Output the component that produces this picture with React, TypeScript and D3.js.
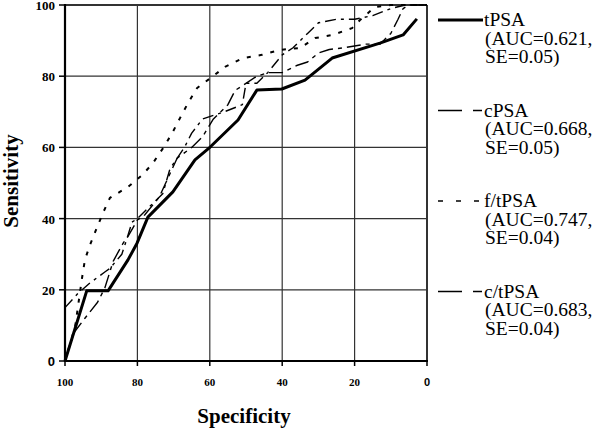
import React from "react";
import * as d3 from "d3";

const xTicks = [100, 80, 60, 40, 20, 0];
const yTicks = [0, 20, 40, 60, 80, 100];

const tpsaSpec = [100, 94, 88.1, 82.6, 80.1, 77.1, 70.2, 64.1, 59.9, 52.2, 47.0, 40.1, 33.7, 26.2, 13.0, 6.6, 2.8];
const tpsaSens = [0, 19.7, 19.7, 28.4, 33.1, 40.4, 47.5, 56.5, 60.1, 67.7, 76.1, 76.4, 78.9, 85.1, 89.3, 91.6, 96.1];

const cpsaSpec = [100, 97.5, 94.5, 91, 89, 86.7, 84, 82.6, 80, 78, 74, 69, 65, 62, 59, 55, 53, 47, 44, 40, 36, 33, 30, 27, 23, 17, 13, 10, 8, 6.6, 5, 0];
const cpsaSens = [0, 8, 12, 16.5, 20.5, 28, 33, 35, 39.6, 41, 46, 57, 60, 63, 68, 72, 76, 80, 81, 81, 83, 84, 86.5, 87.5, 88, 89, 89, 92, 96, 99, 100, 100];

const ftpsaSpec = [100, 97.2, 95.3, 94.5, 93.1, 91.2, 89.5, 87.6, 82.6, 78.7, 75.7, 72.9, 70.4, 68.2, 66, 63.5, 59.4, 55.8, 50.8, 45.6, 40.6, 35.1, 30.9, 26, 20.7, 18.5, 14.4, 10, 0];
const ftpsaSens = [0, 9.6, 23.3, 28.4, 32.6, 37.4, 41.6, 45.8, 48.9, 52.2, 55.6, 59.8, 64, 68.3, 72.5, 76.7, 79.8, 82.6, 85.1, 86, 87.4, 87.9, 90.7, 91.6, 93.5, 95.8, 99.4, 100, 100];

const ctpsaSpec = [100, 96.4, 93, 89, 87.6, 84.3, 83, 81.5, 80, 77, 73, 71, 67, 65, 62, 56, 51, 50, 47, 44, 40, 37, 33, 30, 25, 20, 15, 10, 6, 0];
const ctpsaSens = [15, 19, 22, 25, 26, 30, 34, 39, 40, 43, 47, 54, 60, 64, 68, 70, 72, 78, 78, 81, 86, 88, 92, 95, 96, 96, 97, 99, 100, 100];

const seriesNames = ["tPSA", "cPSA", "f/tPSA", "c/tPSA"];
const seriesAuc = ["(AUC=0.621,", "(AUC=0.668,", "(AUC=0.747,", "(AUC=0.683,"];
const seriesSe = ["SE=0.05)", "SE=0.05)", "SE=0.04)", "SE=0.04)"];

const W = 600, H = 431;
const serif = "'Liberation Serif', 'Times New Roman', serif";
const sans = "'Liberation Sans', Arial, sans-serif";

export default function App() {
  const x = d3.scaleLinear().domain([100, 0]).range([65, 427]);
  const y = d3.scaleLinear().domain([0, 100]).range([361, 5]);

  const mk = (sp: number[], se: number[]) =>
    d3.line<number>().x((_, i) => x(sp[i])).y((_, i) => y(se[i]))(sp.map((_, i) => i)) || "";

  const styles = [
    { w: 3, dash: "none", legDash: "none" },
    { w: 1.4, dash: "14,5,4,5", legDash: "24,11,9,30" },
    { w: 2, dash: "4,8", legDash: "5,13" },
    { w: 1.4, dash: "11,5,3,5", legDash: "24,11,9,30" },
  ];
  const paths = [
    mk(tpsaSpec, tpsaSens),
    mk(cpsaSpec, cpsaSens),
    mk(ftpsaSpec, ftpsaSens),
    mk(ctpsaSpec, ctpsaSens),
  ];

  return (
    <svg width={W} height={H} style={{ position: "absolute", left: 0, top: 0, background: "#fff" }}>
      <rect x={0} y={0} width={W} height={H} fill="#fff" />
      {xTicks.filter((t) => t !== 100).map((t) => (
        <line key={"gx" + t} x1={x(t)} x2={x(t)} y1={y(0)} y2={y(100)} stroke="#333" strokeWidth={t === 0 ? 2 : 1.2} />
      ))}
      {yTicks.filter((t) => t !== 0).map((t) => (
        <line key={"gy" + t} x1={x(100)} x2={x(0)} y1={y(t)} y2={y(t)} stroke="#333" strokeWidth={t === 100 ? 2 : 1.2} />
      ))}
      <line x1={x(100)} x2={x(100)} y1={y(0) + 1} y2={y(100) - 1} stroke="#000" strokeWidth={2.2} />
      <line x1={x(100) - 1} x2={x(0) + 1} y1={y(0)} y2={y(0)} stroke="#000" strokeWidth={2.2} />
      {yTicks.map((t) => (
        <g key={"ty" + t}>
          <line x1={x(100) - 6} x2={x(100)} y1={y(t)} y2={y(t)} stroke="#000" strokeWidth={1.5} />
          <text x={x(100) - 10} y={y(t) + 5} textAnchor="end" fontFamily={t === 0 ? sans : serif} fontWeight="bold" fontSize={13}>
            {t}
          </text>
        </g>
      ))}
      {xTicks.map((t) => (
        <g key={"tx" + t}>
          <line x1={x(t)} x2={x(t)} y1={y(0)} y2={y(0) + 5} stroke="#000" strokeWidth={1.5} />
          <text x={x(t)} y={386} textAnchor="middle" fontFamily={t === 0 ? sans : serif} fontWeight="bold" fontSize={11}>
            {t}
          </text>
        </g>
      ))}
      {paths.map((p, i) => (
        <path key={"s" + i} d={p} fill="none" stroke="#000" strokeWidth={styles[i].w}
          strokeDasharray={styles[i].dash} strokeLinejoin="round" />
      ))}
      <text x={244} y={423} textAnchor="middle" fontFamily={serif} fontWeight="bold" fontSize={21}>Specificity</text>
      <text transform="translate(18,181) rotate(-90)" textAnchor="middle" fontFamily={serif} fontWeight="bold" fontSize={21}>Sensitivity</text>
      {seriesNames.map((n, i) => {
        const b = 26 + i * 90.5;
        return (
          <g key={"lg" + i}>
            <line x1={438} x2={483} y1={b - 6} y2={b - 6} stroke="#000" strokeWidth={i === 0 ? 3 : 1.6}
              strokeDasharray={styles[i].legDash} />
            <text fontFamily={serif} fontSize={19.5} x={484} y={b}>{n}</text>
            <text fontFamily={serif} fontSize={19.5} x={485} y={b + 18.5}>{seriesAuc[i]}</text>
            <text fontFamily={serif} fontSize={19.5} x={485} y={b + 37}>{seriesSe[i]}</text>
          </g>
        );
      })}
    </svg>
  );
}
